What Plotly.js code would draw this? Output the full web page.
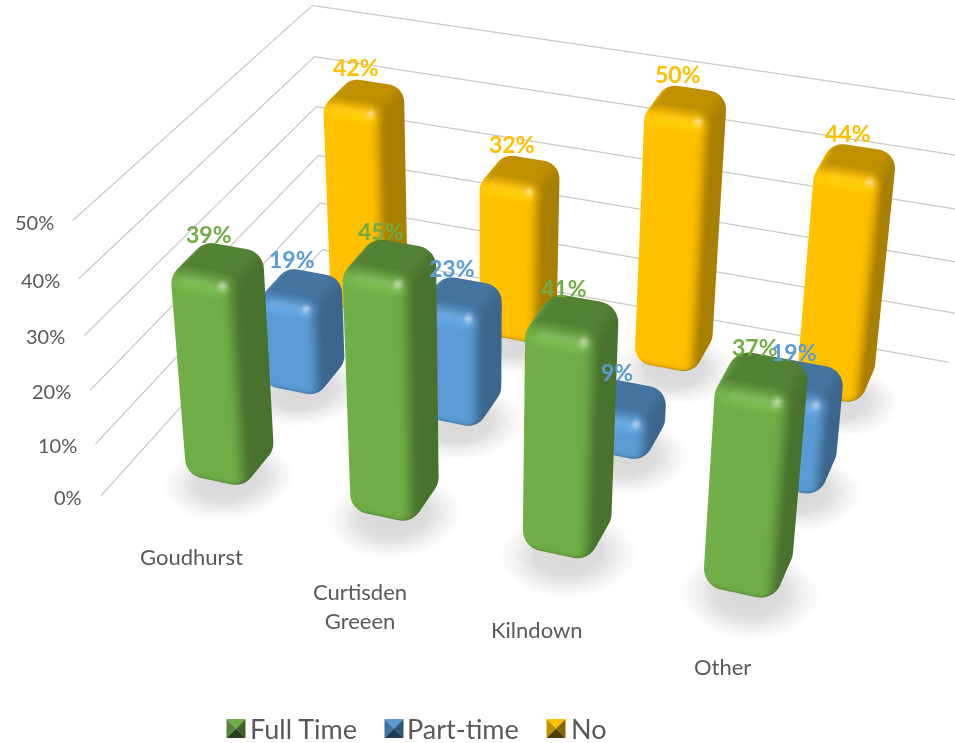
<!DOCTYPE html>
<html><head><meta charset="utf-8">
<script src="https://cdn.plot.ly/plotly-3.0.1.min.js"></script>
<style>html,body{margin:0;padding:0;background:#fff;overflow:hidden}
#frame{position:absolute;left:0;top:0;width:955px;height:743px;overflow:hidden}
#chart{position:absolute}</style></head>
<body><div id="frame"><div id="chart"></div></div>
<script>
var categories = ["Goudhurst", "Curtisden<br>Greeen", "Kilndown", "Other"];
var seriesNames = ["Full Time", "Part-time", "No"];
var fullTime = [39, 45, 41, 37];
var partTime = [19, 23, 9, 19];
var noWork = [42, 32, 50, 44];
var zTicks = [0, 10, 20, 30, 40, 50];
var colors = ["#70AD47", "#5B9BD5", "#FFC000"];
var categoryYShift = [-41, -53, -38, -34];

var SIZE = 1941, PX = 480, PY = 371;
var chart = document.getElementById('chart');
chart.style.width = SIZE + 'px'; chart.style.height = SIZE + 'px';
chart.style.left = (PX - SIZE / 2) + 'px'; chart.style.top = (PY - SIZE / 2) + 'px';
function paperX(px) { return (px - (PX - SIZE / 2)) / SIZE; }
function paperY(py) { return 1 - (py - (PY - SIZE / 2)) / SIZE; }

var nCat = categories.length, nRow = seriesNames.length, zMax = 50;
var WX = 163, WY = 166, WZ = 5.6;           // world pixels per data unit
var padXY = 0.2, padZ = 2, wallLo = -0.05, wallHi = nCat + 0.085;
var aspect = {x: (nCat + 2 * padXY) * WX / 720, y: (nRow + 2 * padXY) * WY / 720, z: (zMax + 2 * padZ) * WZ / 720};

function rgbOf(hex) { return [1, 3, 5].map(function (k) { return parseInt(hex.substr(k, 2), 16); }); }
function shade(rgb, nx, ny, nz) {
  var p = 3;
  var wF = Math.pow(Math.max(0, -ny), p), wB = Math.pow(Math.max(0, ny), p),
      wR = Math.pow(Math.max(0, nx), p), wL = Math.pow(Math.max(0, -nx), p),
      wT = Math.pow(Math.max(0, nz), p), wD = Math.pow(Math.max(0, -nz), p);
  var f = (wF * 1 + wB * 0.7 + wR * 0.66 + wL * 1.02 + wT * 0.75 + wD * 0.6) / (wF + wB + wR + wL + wT + wD);
  f += Math.max(0, -ny) * Math.max(0, nz) * 4 * 0.06;
  var sx = nx - 0.3, sy = ny + 0.72, sz = nz - 0.62;
  var spot = 0.55 * Math.exp(-(sx * sx + sy * sy + sz * sz) / 0.05);
  return 'rgb(' + rgb.map(function (c) {
    var v = c * f; v = v + (255 - v) * spot; return Math.min(255, Math.round(v));
  }).join(',') + ')';
}

function roundedBar(cx, cy, h, color, name) {
  var hx = 0.205, hy = 0.225, R = 18, rx = R / WX, ry = R / WY, rz = R / WZ, base = rgbOf(color);
  var A = 9, P = 9, X = [], Y = [], Z = [], C = [], I = [], J = [], K = [];
  var corners = [[1, 1, 0], [-1, 1, 90], [-1, -1, 180], [1, -1, 270]];
  function ring(zc, phi) {
    corners.forEach(function (c) {
      for (var a = 0; a <= A; a++) {
        var t = (c[2] + 90 * a / A) * Math.PI / 180;
        var nx = Math.cos(phi) * Math.cos(t), ny = Math.cos(phi) * Math.sin(t), nz = Math.sin(phi);
        X.push(cx + c[0] * (hx - rx) + rx * nx);
        Y.push(cy + c[1] * (hy - ry) + ry * ny);
        Z.push(zc + rz * nz);
        C.push(shade(base, nx, ny, nz));
      }
    });
  }
  var p, rings = 0;
  for (p = 0; p <= P; p++) { ring(rz, -Math.PI / 2 + (Math.PI / 2) * p / P); rings++; }
  for (p = 0; p <= P; p++) { ring(h - rz, (Math.PI / 2) * p / P); rings++; }
  var n = 4 * (A + 1);
  for (var r = 0; r < rings - 1; r++) for (var i = 0; i < n; i++) {
    var a0 = r * n + i, a1 = r * n + (i + 1) % n, b0 = a0 + n, b1 = a1 + n;
    I.push(a0, a0); J.push(a1, b1); K.push(b1, b0);
  }
  var bot = X.length; X.push(cx); Y.push(cy); Z.push(0); C.push(shade(base, 0, 0, -1));
  var top = X.length; X.push(cx); Y.push(cy); Z.push(h); C.push(shade(base, 0, 0, 1));
  for (i = 0; i < n; i++) {
    I.push(bot); J.push((i + 1) % n); K.push(i);
    I.push(top); J.push((rings - 1) * n + i); K.push((rings - 1) * n + (i + 1) % n);
  }
  return {type: 'mesh3d', x: X, y: Y, z: Z, i: I, j: J, k: K, vertexcolor: C, name: name,
    flatshading: false, hoverinfo: 'skip', showscale: false,
    lighting: {ambient: 1, diffuse: 0, specular: 0, roughness: 1, fresnel: 0}};
}

function shadow(cx, cy, depth) {
  var X = [cx], Y = [cy], Z = [depth], C = ['#D8D8D8'], I = [], J = [], K = [];
  var S = 28, rings = [[0.17, 0.2, '#DCDCDC'], [0.26, 0.29, '#EEEEEE'], [0.36, 0.39, '#FFFFFF']];
  rings.forEach(function (rg, q) {
    for (var s = 0; s < S; s++) {
      var t = 2 * Math.PI * s / S;
      X.push(cx + rg[0] * Math.cos(t)); Y.push(cy + rg[1] * Math.sin(t)); Z.push(depth); C.push(rg[2]);
    }
  });
  for (var s = 0; s < S; s++) {
    I.push(0); J.push(1 + s); K.push(1 + (s + 1) % S);
    for (var q = 0; q < rings.length - 1; q++) {
      var a0 = 1 + q * S + s, a1 = 1 + q * S + (s + 1) % S, b0 = a0 + S, b1 = a1 + S;
      I.push(a0, a0); J.push(a1, b1); K.push(b1, b0);
    }
  }
  return {type: 'mesh3d', x: X, y: Y, z: Z, i: I, j: J, k: K, vertexcolor: C, hoverinfo: 'skip',
    flatshading: false, lighting: {ambient: 1, diffuse: 0, specular: 0, roughness: 1, fresnel: 0}};
}

var gx = [], gy = [], gz = [];
zTicks.forEach(function (t) {
  gx.push(wallLo, wallLo, wallHi, null); gy.push(0, nRow, nRow, null); gz.push(t, t, t, null);
});
var traces = [{type: 'scatter3d', mode: 'lines', x: gx, y: gy, z: gz, hoverinfo: 'skip',
  line: {color: '#C8C8C8', width: 2.5}, connectgaps: false}];

var allSeries = [fullTime, partTime, noWork];
var labels = [];
allSeries.forEach(function (vals, row) {
  vals.forEach(function (v, c) {
    traces.push(shadow(c + 0.54, row + 0.4, -0.4 - 0.1 * (row + c)));
    traces.push(roundedBar(c + 0.5, row + 0.5, v, colors[row], seriesNames[row]));
    labels.push({x: c + 0.5, y: row + 0.5, z: v, text: v + '%', showarrow: false,
      xanchor: 'center', yanchor: 'bottom', xshift: -8, yshift: 8,
      font: {family: 'Lato, sans-serif', size: 23, color: colors[row], weight: 'bold'}});
  });
});
zTicks.forEach(function (t) {
  labels.push({x: wallLo, y: 0, z: t, text: t + '%', showarrow: false, xanchor: 'right', yanchor: 'middle',
    xshift: -17, yshift: -1, font: {family: 'Lato, sans-serif', size: 20, color: '#595959'}});
});
categories.forEach(function (name, c) {
  labels.push({x: c + 0.5, y: 0, z: 0, text: name, showarrow: false, xanchor: 'center', yanchor: 'middle',
    xshift: 1, yshift: categoryYShift[c], font: {family: 'Lato, sans-serif', size: 22, color: '#595959'}});
});

var shapes = [], annots = [];
var legendX = [226, 384, 546], legendTextX = [247, 404, 568], legendY = 728, sw = 19;
seriesNames.forEach(function (name, i) {
  var x0 = legendX[i], y0 = legendY - sw / 2, x1 = x0 + sw, y1 = y0 + sw, xm = x0 + sw / 2, ym = legendY;
  function tri(ax, ay, bx, by, col) {
    shapes.push({type: 'path', xref: 'paper', yref: 'paper', line: {width: 0}, fillcolor: col, layer: 'above',
      path: 'M' + paperX(ax) + ',' + paperY(ay) + 'L' + paperX(bx) + ',' + paperY(by) + 'L' + paperX(xm) + ',' + paperY(ym) + 'Z'});
  }
  var base = colors[i];
  var dark = ['#3F6428', '#2F5777', '#8A6800'][i], mid = ['#57853A', '#41719C', '#BF9000'][i], black = ['#263D18', '#1F3A52', '#4D3B00'][i];
  tri(x0, y0, x1, y0, base);
  tri(x1, y0, x1, y1, dark);
  tri(x1, y1, x0, y1, black);
  tri(x0, y1, x0, y0, mid);
  annots.push({xref: 'paper', yref: 'paper', x: paperX(legendTextX[i]), y: paperY(legendY), text: name, showarrow: false,
    xanchor: 'left', yanchor: 'middle', font: {family: 'Lato, sans-serif', size: 27, color: '#595959'}});
});

function axisOff(lo, hi) {
  return {visible: false, showgrid: false, zeroline: false, showspikes: false, range: [lo, hi], autorange: false};
}
var layout = {
  width: SIZE, height: SIZE, margin: {l: 0, r: 0, t: 0, b: 0}, showlegend: false,
  paper_bgcolor: '#ffffff', shapes: shapes, annotations: annots,
  scene: {
    domain: {x: [0, 1], y: [0, 1]}, aspectmode: 'manual', aspectratio: aspect,
    xaxis: axisOff(-padXY, nCat + padXY), yaxis: axisOff(-padXY, nRow + padXY), zaxis: axisOff(-padZ, zMax + padZ),
    camera: {up: {x: 0, y: 0, z: 1}, center: {x: -0.0576, y: -0.0731, z: -0.0818},
      eye: {x: 0.8238, y: -2.4571, z: 1.4662}, projection: {type: 'perspective'}},
    annotations: labels
  }
};
Plotly.newPlot(chart, traces, layout, {displayModeBar: false, staticPlot: false});
</script></body></html>
